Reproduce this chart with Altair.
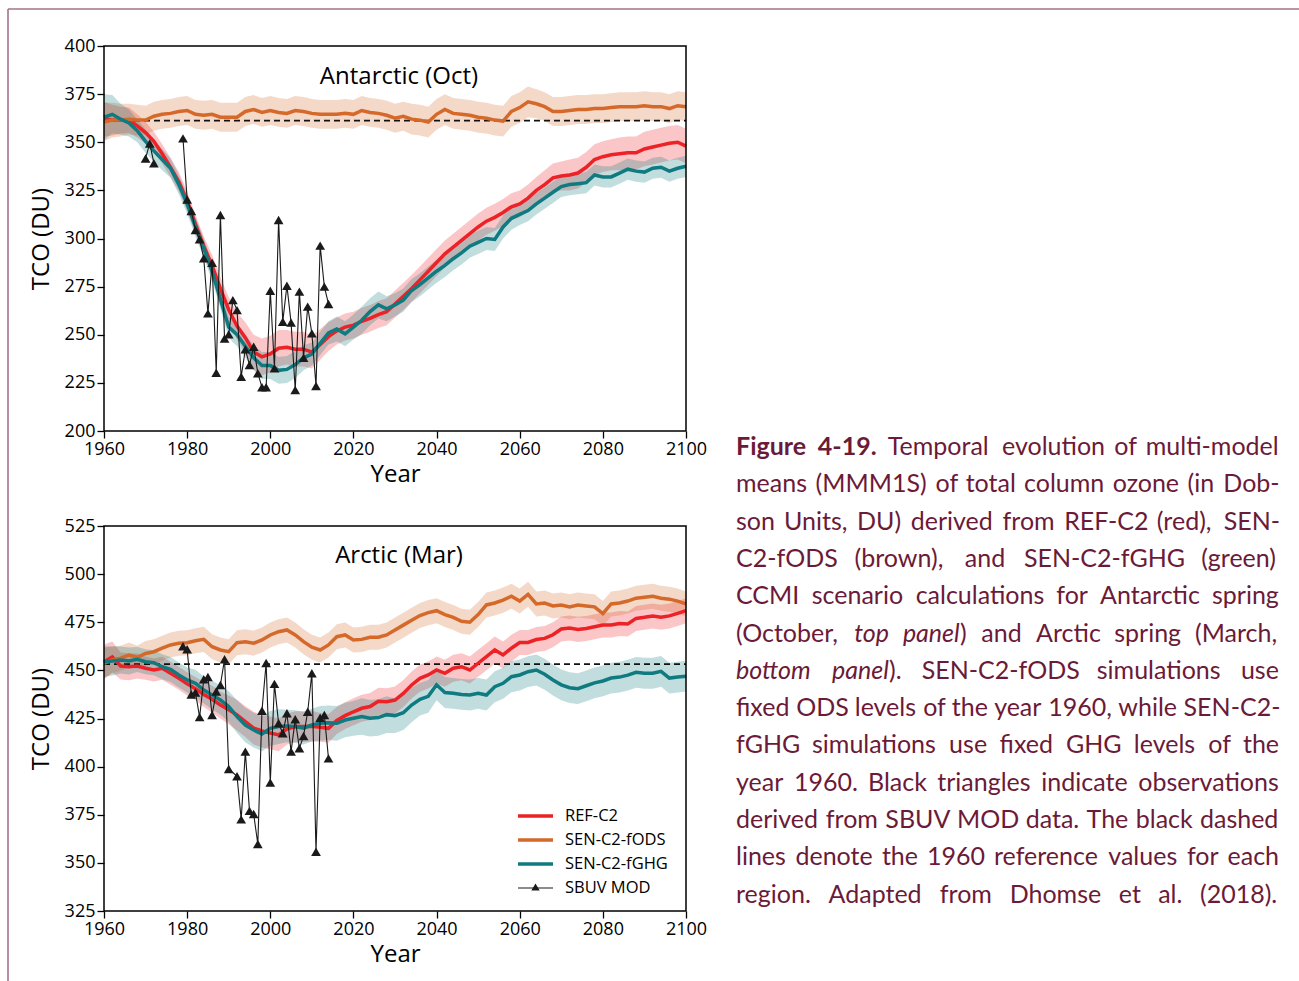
import re
import altair as alt
import pandas as pd

# ---------------- data ----------------
YEARS = list(range(1960, 2101, 2))

ANT_REF = [362, 361.5, 361.5, 361.5, 358.5,
           355, 350.5, 344, 337, 329.5,
           319.5, 307.5, 296, 286, 274,
           263, 254.5, 248.5, 241, 238.5,
           240, 243, 243.5, 242.5, 242.5,
           241, 245, 249, 252, 254,
           255, 257, 258.5, 260.5, 262,
           266, 270, 274, 278.5, 283,
           287.5, 292, 295.5, 299, 302.5,
           306, 309, 311, 313.5, 316.5,
           318, 321, 325, 328, 331.5,
           332.5, 333, 334, 337, 341,
           342.5, 343.5, 344, 344.5, 344.5,
           346.5, 347.5, 348.5, 349.5, 350,
           348]
ANT_ODS = [360.5, 361.5, 361.5, 362, 361.5,
           361.5, 363.5, 364.5, 365, 366,
           366.5, 364.5, 364, 364.5, 363,
           363, 363, 366, 367, 365.5,
           366.5, 365.5, 365, 366.5, 366,
           365, 364.5, 364.5, 364.5, 365,
           364.5, 366.5, 365.5, 365, 364,
           362.5, 363.5, 362, 361.5, 360.5,
           364.5, 367, 365, 364.5, 364,
           363, 362.5, 361.5, 361, 366,
           368, 371, 370, 368.5, 366,
           366, 366.5, 367, 367, 367.5,
           367.5, 368, 368.5, 368.5, 368.5,
           369, 368.5, 368.5, 367.5, 369,
           368.5]
ANT_GHG = [363, 364.5, 362, 360, 356,
           350.5, 345.5, 341, 336.5, 328,
           318, 306, 295, 283, 268.5,
           254, 250, 244, 238, 234,
           234, 231.5, 232, 234.5, 238,
           240, 245.5, 251, 253, 250.5,
           254, 257.5, 262, 265.5, 263.5,
           265.5, 268, 273, 276, 279.5,
           283, 286, 289.5, 292.5, 296,
           298, 300, 299.5, 306, 310.5,
           312.5, 314.5, 318, 321, 324,
           327, 328, 328.5, 329, 333,
           332, 332, 334, 336, 335,
           334.5, 336.5, 337, 335, 336.5,
           337.5]
ANT_REF_SP = [9, 8, 7, 6.5, 6,
              5.5, 5, 5, 5, 5,
              5, 5, 5, 5.5, 6,
              6.5, 7, 8, 9, 9.5,
              9.5, 9.5, 9, 9, 9,
              8.5, 8, 7.5, 7, 7,
              7, 7, 7, 7, 7,
              7, 7, 7, 7, 7,
              7, 7, 7, 7, 7,
              7, 7, 7, 7, 7,
              7, 7, 7, 7.5, 7.5,
              7.5, 8, 8, 8, 8,
              8, 8, 8.5, 8.5, 8.5,
              9, 9, 9, 9, 9,
              9]
ANT_ODS_SP = [10, 9, 8.5, 8, 8,
              7.5, 7.5, 7.5, 7.5, 7.5,
              7.5, 7.5, 7.5, 7.5, 7.5,
              7.5, 7.5, 7.5, 7.5, 7.5,
              7.5, 7.5, 7.5, 7.5, 7.5,
              7.5, 7.5, 7.5, 7.5, 7.5,
              7.5, 7.5, 7.5, 7.5, 7.5,
              7.5, 7.5, 8, 8, 8,
              8, 8, 8, 8, 8,
              8, 8, 8, 8, 8,
              8, 8, 7.5, 7.5, 7.5,
              7.5, 7.5, 7.5, 7.5, 7.5,
              7.5, 7.5, 7.5, 7.5, 7.5,
              7.5, 7.5, 7.5, 7.5, 7.5,
              7.5]
ANT_GHG_SP = [12, 10, 8, 7, 6,
              6, 5.5, 5.5, 5, 5,
              5, 5, 5, 5, 5,
              5.5, 6, 6, 6.5, 7,
              7, 7, 7, 7, 6.5,
              6, 6, 6, 6.5, 6.5,
              6.5, 7, 7, 7, 6.5,
              6, 6, 6, 6, 6,
              6, 6, 6, 6, 6,
              6, 6, 6, 6, 6,
              5.5, 5.5, 5.5, 5.5, 5.5,
              5.5, 5.5, 5.5, 5.5, 5.5,
              5.5, 5.5, 5.5, 5.5, 5.5,
              5.5, 5.5, 5.5, 5.5, 5.5,
              5.5]

ARC_REF = [454.5, 457, 452.3, 451.9, 452.3,
           451.1, 450.2, 451.1, 448.5, 445.9,
           443, 440.5, 437.5, 435, 432,
           429.5, 426.8, 423.4, 420, 418.5,
           417.5, 416.5, 419.5, 420.8, 420.8,
           421, 420.4, 419.9, 424, 426.5,
           428.5, 430.3, 431.2, 434, 433.7,
           434.6, 438, 442.4, 445.9, 447.6,
           450.2, 448.5, 451.1, 451.9, 450.2,
           453.7, 457.1, 460.6, 458, 461.5,
           464.5, 464.5, 466, 466.6, 468.5,
           471.5, 472, 471.3, 471.8, 472.7,
           473.6, 473.6, 474.4, 474.1, 477,
           477.6, 478.3, 477.6, 478.3, 479.6,
           481]
ARC_ODS = [453.7, 455.4, 456.3, 458, 456.8,
           458.8, 459.7, 461.5, 463.2, 464.1,
           464.4, 465.4, 466.1, 462.3, 460.6,
           459.7, 464.4, 464.9, 464.1, 465.8,
           468.4, 470.1, 471, 468.4, 464.9,
           462, 460.6, 463.2, 467.5, 468.4,
           465.8, 466.1, 467.2, 467.2, 468.4,
           471, 473.5, 476, 478.5, 480,
           481, 479, 477.5, 475.5, 475,
           479, 484, 485, 486.5, 488.5,
           486, 489.5, 484.5, 485, 483.5,
           484, 483, 484, 483.5, 483,
           479.5, 484.5, 485, 486, 487.5,
           488, 488.5, 487.5, 487, 486,
           484.5]
ARC_GHG = [454.5, 454.9, 455.4, 454.9, 455.7,
           454.5, 454, 451.9, 450.5, 447.6,
           445, 443.3, 439.8, 437.2, 434.6,
           431.2, 426, 421.6, 419, 417,
           419.9, 420.8, 421.1, 420.8, 420,
           421.6, 422.5, 422.8, 422.5, 424.2,
           425.1, 426, 425.1, 425.5, 427,
           426.5, 428, 432, 435, 436.5,
           442.5, 438.5, 438.1, 437.5, 437.2,
           438.1, 437.2, 441.5, 443.3, 446.7,
           447.6, 449.3, 450.2, 448, 445,
           442.5, 441, 440.5, 442, 443.5,
           444.5, 446, 446.5, 447.5, 449,
           448.5, 448.5, 449.5, 446, 446.5,
           447]
ARC_REF_SP = [9, 8, 7, 7, 6.5,
              6, 6, 6, 6, 6,
              6, 6, 6.5, 7, 7,
              7.5, 8, 8, 8.5, 8.5,
              8.5, 8.5, 8, 8, 8,
              8, 7.5, 7.5, 7, 7,
              7, 7, 7, 7, 7,
              7, 7, 7, 7, 7,
              7, 7, 7, 7, 7,
              7, 7, 7, 7, 7,
              6.5, 6.5, 6.5, 6.5, 6.5,
              6.5, 6.5, 6.5, 6.5, 6.5,
              6.5, 6.5, 6.5, 6.5, 6.5,
              6.5, 6.5, 6.5, 6.5, 6.5,
              6.5]
ARC_ODS_SP = [8, 7, 6.5, 6.5, 6,
              6.5, 6.5, 6.5, 6.5, 6.5,
              6.5, 6.5, 6.5, 6.5, 6.5,
              6.5, 6.5, 6.5, 6.5, 6.5,
              6.5, 6.5, 6.5, 6.5, 6.5,
              6.5, 6.5, 6.5, 6.5, 6.5,
              6.5, 6.5, 6.5, 6.5, 6.5,
              6.5, 6.5, 6.5, 6.5, 6.5,
              6.5, 6.5, 6.5, 6.5, 6.5,
              6.5, 6.5, 6.5, 6.5, 6.5,
              6.5, 6.5, 6.5, 6.5, 6.5,
              6.5, 6.5, 6.5, 6.5, 6.5,
              6.5, 6.5, 6.5, 6.5, 6.5,
              6.5, 6.5, 6.5, 6.5, 6.5,
              6.5]
ARC_GHG_SP = [8, 7.5, 7, 7, 6.5,
              6.5, 6.5, 6.5, 6.5, 6.5,
              6.5, 7, 7, 7.5, 7.5,
              8, 8.5, 9, 9, 9,
              9, 9, 8.5, 8.5, 8.5,
              8.5, 9, 9, 9, 9,
              9, 9.5, 9.5, 9.5, 9.5,
              9, 9, 9, 8.5, 8.5,
              8, 8, 8, 8, 8,
              8, 8, 8, 8, 8,
              8, 8, 8, 8, 8,
              8, 8, 8, 8, 8,
              8, 8, 8, 8, 8,
              8, 8, 8, 8, 8,
              8]

# SBUV MOD observations (segment id = separately connected runs)
ANT_OBS_YEAR = [1970, 1971, 1972,
                1979, 1980, 1981, 1982, 1983, 1984, 1985, 1986, 1987, 1988, 1989,
                1990, 1991, 1992, 1993, 1994, 1995, 1996, 1997, 1998, 1999,
                2000, 2001, 2002, 2003, 2004, 2005, 2006, 2007, 2008, 2009,
                2010, 2011, 2012, 2013, 2014]
ANT_OBS = [341.6, 349.4, 339.1,
           352.0, 320.3, 314.3, 304.4, 299.6, 289.7, 261.1, 287.4, 230.3, 312.2, 248.1,
           250.2, 268.0, 262.8, 228.2, 242.4, 234.3, 243.8, 230.0, 222.7, 222.7,
           272.9, 232.6, 309.6, 256.8, 275.5, 256.3, 221.3, 272.4, 238.1, 264.6,
           250.7, 223.4, 296.3, 275.0, 266.0]
ANT_OBS_SEG = [0, 0, 0] + [1] * 36

ARC_OBS_YEAR = [1979, 1980, 1981, 1982, 1983, 1984, 1985, 1986, 1987, 1988, 1989,
                1990, 1992, 1993, 1994, 1995, 1996, 1997, 1998, 1999,
                2000, 2001, 2002, 2003, 2004, 2005, 2006, 2007, 2008, 2009,
                2010, 2011, 2012, 2013, 2014]
ARC_OBS = [462.5, 461, 437.5, 438.5, 425.7, 445.4, 446.6, 426.8, 439, 442.4, 455.8,
           398.8, 395, 372.6, 407.8, 377, 375.4, 359.8, 429, 453.8,
           391.7, 443, 422.5, 417.3, 427.7, 407.8, 424.6, 409.5, 415.9, 428.5,
           448.5, 355.8, 425.4, 426.8, 404.3]
ARC_OBS_SEG = [0] * len(ARC_OBS)

ANT_REF1960 = 361.2
ARC_REF1960 = 453.2

SERIES = ["REF-C2", "SEN-C2-fODS", "SEN-C2-fGHG"]
COLORS = {"REF-C2": "#ec2227", "SEN-C2-fODS": "#d5692a", "SEN-C2-fGHG": "#0f7a7f"}

# caption: **bold**, _italic_
CAPTION = [
    "**Figure** **4-19.** Temporal evolution of multi-model",
    "means (MMM1S) of total column ozone (in Dob-",
    "son Units, DU) derived from REF-C2 (red), SEN-",
    "C2-fODS (brown), and SEN-C2-fGHG (green)",
    "CCMI scenario calculations for Antarctic spring",
    "(October, _top_ _panel_) and Arctic spring (March,",
    "_bottom_ _panel_). SEN-C2-fODS simulations use",
    "fixed ODS levels of the year 1960, while SEN-C2-",
    "fGHG simulations use fixed GHG levels of the",
    "year 1960. Black triangles indicate observations",
    "derived from SBUV MOD data. The black dashed",
    "lines denote the 1960 reference values for each",
    "region. Adapted from Dhomse et al. (2018).",
]

# ---------------- layout ----------------
W, H = 1299, 981
X0, X1 = 104, 686
FONT = "Open Sans"
CAP_FONT = "Lato"
CAP_SIZE = 25
CAP_LEFT, CAP_RIGHT = 736, 1279

# approximate relative advance widths of Lato (em), used only to justify caption lines
LATO_W = dict(zip("abcdefghijklmnopqrstuvwxyz",
                  [.507, .565, .459, .565, .527, .328, .505, .565, .246, .246, .510, .246, .835,
                   .565, .562, .556, .565, .376, .433, .351, .565, .505, .773, .494, .505, .456]))
LATO_W.update(dict(zip("ABCDEFGHIJKLMNOPQRSTUVWXYZ",
                       [.683, .638, .671, .747, .564, .552, .726, .765, .288, .402, .664, .498, .919,
                        .765, .804, .604, .804, .625, .532, .594, .732, .683, 1.014, .652, .618, .613])))
LATO_W.update({d: .58 for d in "0123456789"})
LATO_W.update({".": .226, ",": .226, "-": .353, "(": .307, ")": .307})


def piece_width(text, weight, style="normal"):
    w = sum(LATO_W.get(c, .5) for c in text) * CAP_SIZE
    if weight == "bold":
        w *= 1.05
    if style == "italic":
        w *= 0.95
    return w


def parse_word(tok):
    pieces = []
    for b, it, n in re.findall(r"\*\*(.+?)\*\*|_(.+?)_|([^*_]+)", tok):
        if b:
            pieces.append((b, "bold", "normal"))
        elif it:
            pieces.append((it, "normal", "italic"))
        else:
            pieces.append((n, "normal", "normal"))
    return pieces


def model_frame(vals, spread):
    return pd.DataFrame({
        "year": YEARS,
        "value": vals,
        "lo": [v - s for v, s in zip(vals, spread)],
        "hi": [v + s for v, s in zip(vals, spread)],
    })


def panel(models, obs_year, obs_val, obs_seg, ydom, ytop, ybot, ystep, ref, title, title_y, legend):
    xs = alt.Scale(domain=[1960, 2100], range=[X0, X1], nice=False, zero=False)
    ys = alt.Scale(domain=ydom, range=[ybot, ytop], nice=False, zero=False)
    xaxis = alt.Axis(orient="bottom", offset=ybot - H, values=list(range(1960, 2101, 20)),
                     format="d", title="Year", domain=False, grid=False,
                     tickSize=7, tickWidth=1.3, tickColor="black",
                     labelFont=FONT, labelFontSize=18, labelColor="black", labelPadding=2,
                     labelFlush=False, labelOverlap=False, labelBound=False,
                     titleFont=FONT, titleFontSize=24, titleFontWeight="normal",
                     titleColor="black", titlePadding=4)
    yaxis = alt.Axis(orient="left", offset=-X0,
                     values=list(range(int(ydom[0]), int(ydom[1]) + 1, ystep)),
                     format="d", title="TCO (DU)", domain=False, grid=False,
                     tickSize=7, tickWidth=1.3, tickColor="black",
                     labelFont=FONT, labelFontSize=18, labelColor="black", labelPadding=2,
                     labelFlush=False, labelOverlap=False, labelBound=False,
                     titleFont=FONT, titleFontSize=24, titleFontWeight="normal",
                     titleColor="black", titlePadding=11)

    def X(field):
        return alt.X(field, scale=xs, axis=xaxis)

    def Y(field):
        return alt.Y(field, scale=ys, axis=yaxis)

    layers = []
    for name, df in models:
        layers.append(alt.Chart(df).mark_area(color=COLORS[name], opacity=0.26).encode(
            x=X("year:Q"), y=Y("lo:Q"), y2="hi:Q"))
    ref_df = pd.DataFrame({"x0": [1960], "x1": [2100], "y": [ref]})
    layers.append(alt.Chart(ref_df).mark_rule(color="#111111", strokeDash=[6, 4], strokeWidth=1.8).encode(
        x=X("x0:Q"), x2="x1:Q", y=Y("y:Q")))
    for name, df in models:
        layers.append(alt.Chart(df).mark_line(color=COLORS[name], strokeWidth=3.5).encode(
            x=X("year:Q"), y=Y("value:Q")))
    obs_df = pd.DataFrame({"year": obs_year, "obs": obs_val, "seg": obs_seg})
    layers.append(alt.Chart(obs_df).mark_line(color="#1a1a1a", strokeWidth=1.1).encode(
        x=X("year:Q"), y=Y("obs:Q"), detail="seg:N"))
    layers.append(alt.Chart(obs_df).mark_point(shape="triangle-up", filled=True, size=95,
                                               color="#1a1a1a", opacity=1).encode(
        x=X("year:Q"), y=Y("obs:Q")))
    frame_df = pd.DataFrame({"x0": [1960], "x1": [2100], "y0": [ydom[0]], "y1": [ydom[1]]})
    layers.append(alt.Chart(frame_df).mark_rect(filled=False, stroke="black", strokeWidth=1.5).encode(
        x=X("x0:Q"), x2="x1:Q", y=Y("y0:Q"), y2="y1:Q"))
    layers.append(alt.Chart(pd.DataFrame({"t": [title]})).mark_text(
        font=FONT, fontSize=24, color="black", align="center", baseline="middle").encode(
        x=alt.value((X0 + X1) / 2 + 4), y=alt.value(title_y), text="t:N"))

    if legend:
        rows = SERIES + ["SBUV MOD"]
        for i, name in enumerate(rows):
            yy = 816 + 24 * i
            if name in COLORS:
                layers.append(alt.Chart(pd.DataFrame({"a": [0]})).mark_rule(
                    color=COLORS[name], strokeWidth=3.5).encode(
                    x=alt.value(518), x2=alt.value(553), y=alt.value(yy)))
            else:
                layers.append(alt.Chart(pd.DataFrame({"a": [0]})).mark_rule(
                    color="#1a1a1a", strokeWidth=1.2).encode(
                    x=alt.value(518), x2=alt.value(553), y=alt.value(yy)))
                layers.append(alt.Chart(pd.DataFrame({"a": [0]})).mark_point(
                    shape="triangle-up", filled=True, size=70, color="#1a1a1a", opacity=1).encode(
                    x=alt.value(535.5), y=alt.value(yy - 1)))
            layers.append(alt.Chart(pd.DataFrame({"t": [name]})).mark_text(
                font=FONT, fontSize=16.5, color="black", align="left", baseline="middle").encode(
                x=alt.value(565), y=alt.value(yy), text="t:N"))
    return alt.layer(*layers)


top = panel([("REF-C2", model_frame(ANT_REF, ANT_REF_SP)),
             ("SEN-C2-fODS", model_frame(ANT_ODS, ANT_ODS_SP)),
             ("SEN-C2-fGHG", model_frame(ANT_GHG, ANT_GHG_SP))],
            ANT_OBS_YEAR, ANT_OBS, ANT_OBS_SEG, [200, 400], 46, 431, 25,
            ANT_REF1960, "Antarctic (Oct)", 77, False)
bottom = panel([("REF-C2", model_frame(ARC_REF, ARC_REF_SP)),
                ("SEN-C2-fODS", model_frame(ARC_ODS, ARC_ODS_SP)),
                ("SEN-C2-fGHG", model_frame(ARC_GHG, ARC_GHG_SP))],
               ARC_OBS_YEAR, ARC_OBS, ARC_OBS_SEG, [325, 525], 526, 911, 25,
               ARC_REF1960, "Arctic (Mar)", 556, True)

# caption text, justified word by word between CAP_LEFT and CAP_RIGHT
cap_rows = []
for i, line in enumerate(CAPTION):
    yy = 447 + i * 37.3
    words = [parse_word(t) for t in line.split(" ")]
    widths = [sum(piece_width(*p) for p in w) for w in words]
    gap = (CAP_RIGHT - CAP_LEFT - sum(widths)) / (len(words) - 1)
    xx = CAP_LEFT
    for k, (w, ww) in enumerate(zip(words, widths)):
        if k == len(words) - 1:
            xx = CAP_RIGHT - ww
        px = xx
        for text, weight, style in w:
            cap_rows.append({"t": text, "x": px, "y": yy, "weight": weight, "style": style})
            px += piece_width(text, weight, style)
        xx += ww + gap

cap_layers = []
for r in cap_rows:
    cap_layers.append(alt.Chart(pd.DataFrame({"t": [r["t"]]})).mark_text(
        font=CAP_FONT, fontSize=CAP_SIZE, fontWeight=r["weight"], fontStyle=r["style"],
        color="#6b1a38", align="left", baseline="middle").encode(
        x=alt.value(r["x"]), y=alt.value(r["y"]), text="t:N"))

# page border
one = pd.DataFrame({"a": [0]})
border = [
    alt.Chart(one).mark_rule(color="#a3738a", strokeWidth=1.6).encode(
        x=alt.value(8), x2=alt.value(W), y=alt.value(9)),
    alt.Chart(one).mark_rule(color="#a3738a", strokeWidth=1.6).encode(
        x=alt.value(8), y=alt.value(9), y2=alt.value(H)),
]

chart = alt.layer(top, bottom, *cap_layers, *border).resolve_scale(
    x="independent", y="independent"
).properties(
    width=W, height=H, autosize=alt.AutoSizeParams(type="none"), padding=0,
    background="white"
).configure_view(stroke=None)

chart.save("out.html", embed_options={"renderer": "svg", "actions": False})
